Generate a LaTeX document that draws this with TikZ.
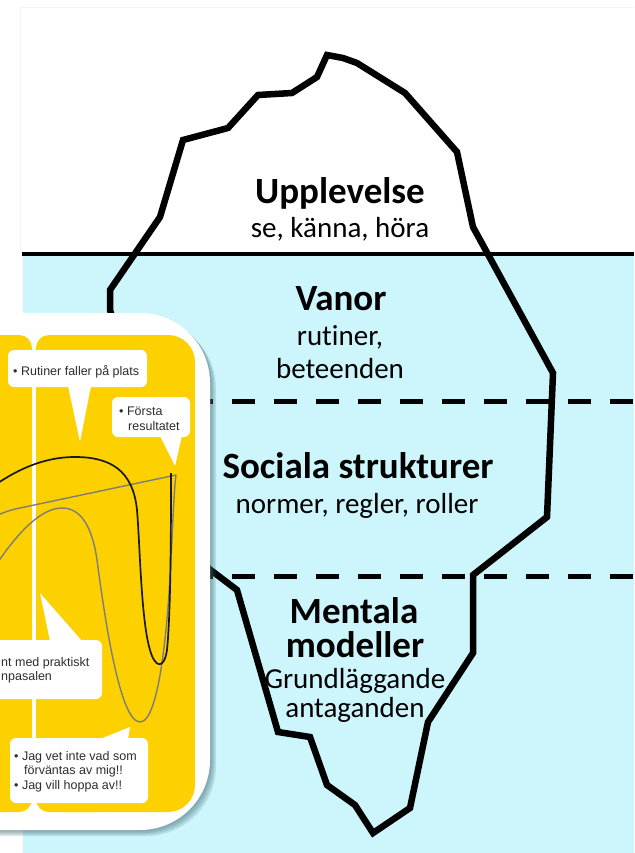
\documentclass[tikz,border=0pt]{standalone}
\usepackage{fontspec}
\setmainfont{Carlito}[Ligatures={NoCommon}]
\newfontfamily\bubblefont{Liberation Sans}
\definecolor{water}{RGB}{204,245,252}
\definecolor{cardyellow}{RGB}{253,208,0}
\definecolor{cardshade}{RGB}{60,100,110}
\definecolor{curvegray}{RGB}{125,125,125}
\definecolor{bubbletext}{RGB}{45,45,45}
\tikzset{
  berg/.style={line width=6.5pt, line join=miter, miter limit=4},
  waterline/.style={line width=4.5pt},
  layerline/.style={line width=5pt, dash pattern=on 23pt off 19pt},
  head/.style={anchor=base, inner sep=0pt, font=\bfseries\fontsize{37}{41}\selectfont},
  sub/.style={anchor=base, inner sep=0pt, font=\fontsize{29}{33}\selectfont},
  bubble/.style={fill=white, rounded corners=6pt},
  btext/.style={anchor=base west, inner sep=0pt, text=bubbletext,
                font=\bubblefont\fontsize{12.5}{14}\selectfont},
  darkcurve/.style={line width=1.7pt, black!90},
  graycurve/.style={line width=1.4pt, curvegray},
}
\begin{document}
\begin{tikzpicture}[x=1pt, y=-1pt]
\useasboundingbox (0,0) rectangle (634,853);
\clip (0,0) rectangle (634,853);
\fill[white] (0,0) rectangle (634,853);
% faint page frame
\draw[black!4, line width=1pt] (20,8) -- (634,8) (20,8) -- (20,253);
% water
\fill[water] (23,254) rectangle (634,853);
\draw[waterline] (22,254) -- (634,254);
% layer boundaries
\draw[layerline] (190,401) -- (634,401);
\draw[layerline] (190,576) -- (634,576);
% iceberg outline
\draw[berg] (327,55) -- (343,58) -- (357,63) -- (405,93) -- (457,152)
  -- (473,227) -- (553,373) -- (547,517) -- (473,575) -- (473,653)
  -- (428,722) -- (410,808) -- (373,833) -- (355,805) -- (327,785)
  -- (310,737) -- (278,732) -- (237,590) -- (208,568) -- (150,440)
  -- (110,310) -- (110,290) -- (160,217) -- (183,140) -- (228,128)
  -- (258,95) -- (292,93) -- (317,77) -- cycle;
% labels
\node[head] (upp) at (340,203) {Upplevelse};
\node[sub] (uppsub) at (340,237) {se, känna, höra};
\node[head] (vanor) at (341,310) {Vanor};
\node[sub] (vanora) at (340,345) {rutiner,};
\node[sub] (vanorb) at (340,378) {beteenden};
\node[head] (soc) at (358,478) {Sociala strukturer};
\node[sub] (socsub) at (357,513) {normer, regler, roller};
\node[head] (menta) at (354,623) {Mentala};
\node[head] (mentb) at (355,657) {modeller};
\node[sub] (mentc) at (355,688) {Grundläggande};
\node[sub] (mentd) at (355,717) {antaganden};
% card shadow
\foreach \s in {1.5,3,4.5,6}
  \fill[cardshade, opacity=0.16, rounded corners=70pt]
    (-100,313+\s) rectangle (210+\s,830+\s);
% card
\fill[white, rounded corners=70pt] (-100,313) rectangle (210,830);
% yellow panels split by a white line
\fill[cardyellow, rounded corners=13pt] (-40,335) rectangle (32,812);
\fill[cardyellow, rounded corners=27pt] (36,335) rectangle (195,812);
\fill[cardyellow, rounded corners=13pt] (36,335) rectangle (110,812);
% curves
\draw[graycurve] (176,475) -- (20,508) .. controls (10,510) and (5,512) .. (-2,515);
\draw[graycurve] (-2,562) .. controls (20,530) and (42,508) .. (62,508)
  .. controls (80,508) and (92,525) .. (97,560)
  .. controls (105,620) and (120,722) .. (140,722)
  .. controls (160,722) and (168,620) .. (171,560)
  .. controls (173,520) and (174,490) .. (176,475);
\draw[darkcurve] (-2,483) .. controls (25,465) and (50,457) .. (75,457)
  .. controls (110,457) and (133,470) .. (137,510)
  .. controls (140,545) and (141,620) .. (150,650)
  .. controls (155,668) and (164,670) .. (167,650)
  .. controls (171,610) and (171,520) .. (171,473);
% speech bubbles
\fill[bubble] (8,350) rectangle (147,387);
\fill[white] (68,386) -- (80,442) -- (91,386) -- cycle;
\node[btext] (b1) at (13,375) {• Rutiner faller på plats};
\fill[bubble] (112,397) rectangle (190,437);
\fill[white] (160,436) -- (175,466) -- (182,436) -- cycle;
\node[btext] (b2a) at (119,415) {• Första};
\node[btext] (b2b) at (128,430) {resultatet};
\fill[bubble] (-10,640) rectangle (102,699);
\fill[white] (50,641) -- (40,593) -- (82,641) -- cycle;
\node[btext] (b3a) at (1,666) {nt med praktiskt};
\node[btext] (b3b) at (1,680) {npasalen};
\fill[bubble] (10,738) rectangle (148,803);
\fill[white] (100,739) -- (130,727) -- (128,739) -- cycle;
\node[btext] (b4a) at (14,760) {• Jag vet inte vad som};
\node[btext] (b4b) at (24,774) {förväntas av mig!!};
\node[btext] (b4c) at (14,789) {• Jag vill hoppa av!!};
\end{tikzpicture}
\end{document}
